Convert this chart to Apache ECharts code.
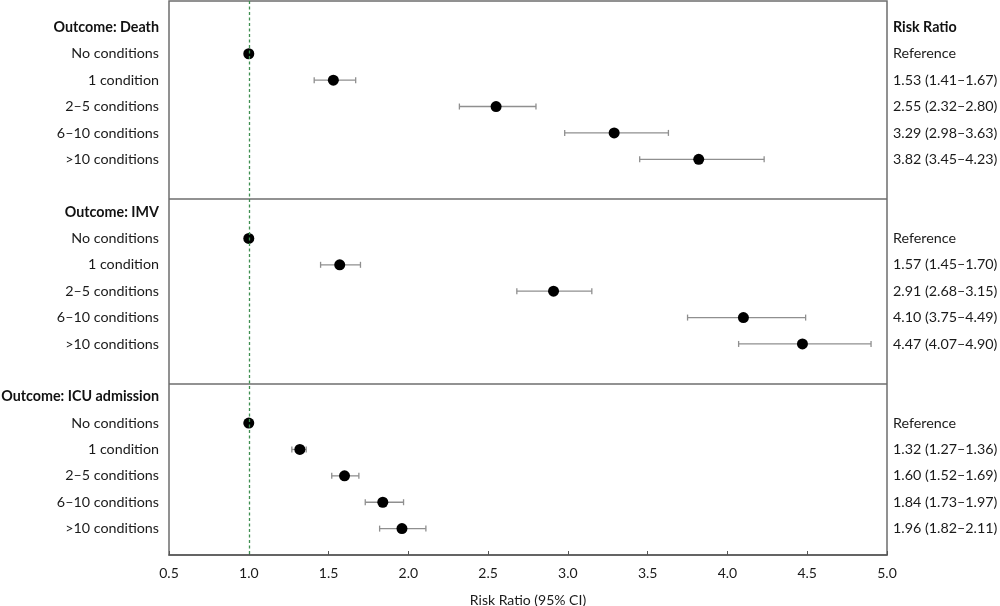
<!DOCTYPE html>
<html>
<head>
<meta charset="utf-8">
<title>Risk ratio forest plot</title>
<script src="https://cdn.jsdelivr.net/npm/echarts@6/dist/echarts.min.js"></script>
<style>
  html, body { margin: 0; padding: 0; background: #fff; }
  #chart { width: 1000px; height: 606px; }
</style>
</head>
<body>
<div id="chart"></div>
<script>
// ----------------------------- DATA ---------------------------------------
var outcomes   = ['Death', 'IMV', 'ICU admission'];
var conditions = ['No conditions', '1 condition', '2\u20135 conditions',
                  '6\u201310 conditions', '>10 conditions'];

// risk ratio, lower and upper 95% CI (first row is the reference group)
var deathRR   = [1.00, 1.53, 2.55, 3.29, 3.82];
var deathLow  = [null, 1.41, 2.32, 2.98, 3.45];
var deathHigh = [null, 1.67, 2.80, 3.63, 4.23];

var imvRR   = [1.00, 1.57, 2.91, 4.10, 4.47];
var imvLow  = [null, 1.45, 2.68, 3.75, 4.07];
var imvHigh = [null, 1.70, 3.15, 4.49, 4.90];

var icuRR   = [1.00, 1.32, 1.60, 1.84, 1.96];
var icuLow  = [null, 1.27, 1.52, 1.73, 1.82];
var icuHigh = [null, 1.36, 1.69, 1.97, 2.11];

var xTicks = [0.5, 1.0, 1.5, 2.0, 2.5, 3.0, 3.5, 4.0, 4.5, 5.0];

// ---------------------------- CHART ---------------------------------------
var forestChart = (function () {
  var
    rrMap   = [deathRR, imvRR, icuRR],
    lowMap  = [deathLow, imvLow, icuLow],
    highMap = [deathHigh, imvHigh, icuHigh],
    FONT = 'Lato, "Open Sans", sans-serif',
    ROWS_PER_BLOCK = 7,

    buildRows, renderErrorBar, initModule
  ;

  // Begin utility /buildRows/
  // every block : empty line, heading, five groups, separator half-way after
  buildRows = function () {
    var s, i, y,
      left = {}, right = {}, points = [], bars = [];

    for (s = 0; s < outcomes.length; s++) {
      y = 1 + s * ROWS_PER_BLOCK;
      left[y]  = '{b|Outcome: ' + outcomes[s] + '}';
      right[y] = s === 0 ? '{b|Risk Ratio}' : '';

      for (i = 0; i < conditions.length; i++) {
        y = 2 + s * ROWS_PER_BLOCK + i;
        left[y] = conditions[i];
        points.push([rrMap[s][i], y]);
        if (lowMap[s][i] === null) {
          right[y] = 'Reference';
        } else {
          right[y] = rrMap[s][i].toFixed(2) + ' (' + lowMap[s][i].toFixed(2) +
            '\u2013' + highMap[s][i].toFixed(2) + ')';
          bars.push([lowMap[s][i], highMap[s][i], y]);
        }
      }
    }
    return { left : left, right : right, points : points, bars : bars };
  };
  // End utility /buildRows/

  // Begin render /renderErrorBar/
  renderErrorBar = function (params, api) {
    var
      y  = api.value(2),
      p1 = api.coord([api.value(0), y]),
      p2 = api.coord([api.value(1), y]),
      cap = 3,
      style = { stroke : '#8f8f8f', lineWidth : 1.3 }
    ;
    return {
      type : 'group',
      children : [
        { type : 'line', shape : { x1 : p1[0], y1 : p1[1], x2 : p2[0], y2 : p2[1] }, style : style },
        { type : 'line', shape : { x1 : p1[0], y1 : p1[1] - cap, x2 : p1[0], y2 : p1[1] + cap }, style : style },
        { type : 'line', shape : { x1 : p2[0], y1 : p2[1] - cap, x2 : p2[0], y2 : p2[1] + cap }, style : style }
      ]
    };
  };
  // End render /renderErrorBar/

  initModule = function (dom) {
    var rows = buildRows(), chart = echarts.init(dom), option;

    option = {
      backgroundColor : '#fff',
      animation : false,
      textStyle : { fontFamily : FONT },
      grid : {
        left : 169, right : 113, top : 1, bottom : 51,
        outerBoundsMode : 'none',
        containLabel : false,
        show : true, borderColor : '#6e6e6e', borderWidth : 1.5
      },
      xAxis : {
        type : 'value',
        min : xTicks[0],
        max : xTicks[xTicks.length - 1],
        interval : 0.5,
        name : 'Risk Ratio (95% CI)',
        nameLocation : 'middle',
        nameGap : 38,
        nameTextStyle : { fontFamily : FONT, fontSize : 14, color : '#1a1a1a' },
        axisLine : { onZero : false, lineStyle : { color : '#555', width : 1.5 } },
        axisTick : { inside : true, length : 4, lineStyle : { color : '#555' } },
        splitLine : { show : false },
        axisLabel : {
          fontFamily : FONT, fontSize : 14, color : '#1a1a1a', margin : 11,
          formatter : function (v) { return v.toFixed(1); }
        }
      },
      yAxis : [
        {
          type : 'value', inverse : true, min : 0, max : 21, interval : 1,
          axisLine : { show : false }, axisTick : { show : false },
          splitLine : { show : false },
          axisLabel : {
            margin : 10, fontFamily : FONT, fontSize : 14.3, color : '#1a1a1a',
            formatter : function (v) { return rows.left[v] || ''; },
            rich : { b : { fontWeight : 'bold', fontFamily : FONT, fontSize : 14.3, color : '#111' } }
          }
        },
        {
          type : 'value', inverse : true, min : 0, max : 21, interval : 1,
          position : 'right',
          axisLine : { show : false }, axisTick : { show : false },
          splitLine : { show : false },
          axisLabel : {
            margin : 6, fontFamily : FONT, fontSize : 14.3, color : '#1a1a1a',
            formatter : function (v) { return rows.right[v] || ''; },
            rich : { b : { fontWeight : 'bold', fontFamily : FONT, fontSize : 14.3, color : '#111' } }
          }
        }
      ],
      series : [
        {
          type : 'custom',
          renderItem : renderErrorBar,
          data : rows.bars,
          encode : { x : [0, 1], y : 2 },
          z : 2,
          // outcome separators
          markLine : {
            silent : true,
            symbol : 'none',
            label : { show : false },
            lineStyle : { color : '#6e6e6e', type : 'solid', width : 1.5, opacity : 1 },
            data : [ { yAxis : 7.5 }, { yAxis : 14.5 } ]
          }
        },
        {
          type : 'scatter',
          data : rows.points,
          symbolSize : 11,
          itemStyle : { color : '#000', opacity : 1 },
          z : 3,
          // line of no effect
          markLine : {
            silent : true,
            symbol : 'none',
            label : { show : false },
            lineStyle : { color : '#3f8f50', type : [3, 2.5], width : 1.3, opacity : 1 },
            data : [ { xAxis : 1 } ]
          }
        }
      ]
    };

    chart.setOption(option);
    return true;
  };

  return { initModule : initModule };
}());

forestChart.initModule(document.getElementById('chart'));
</script>
</body>
</html>
